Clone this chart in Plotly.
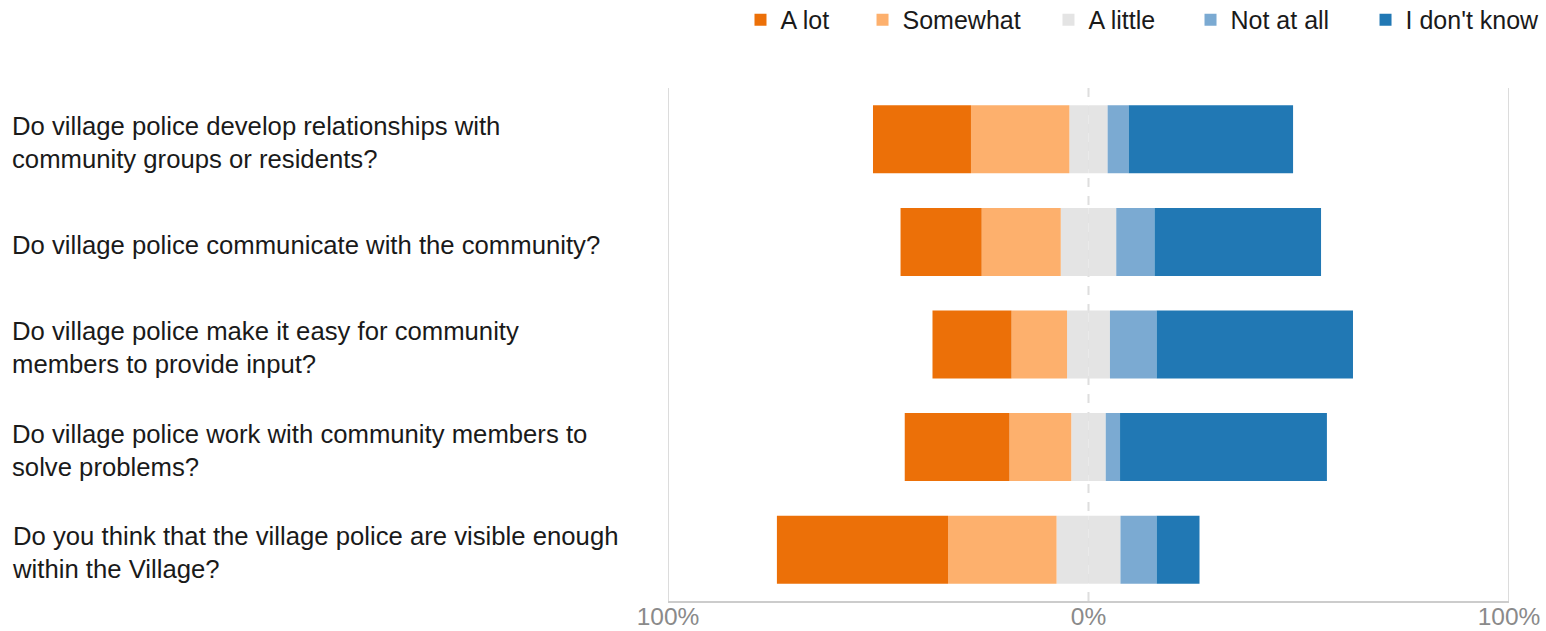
import plotly.graph_objects as go

questions = [
    "Do village police develop relationships with<br>community groups or residents?",
    "Do village police communicate with the community?",
    "Do village police make it easy for community<br>members to provide input?",
    "Do village police work with community members to<br>solve problems?",
    "Do you think that the village police are visible enough<br>within the Village?",
]
a_lot = [23.3, 19.3, 18.8, 24.9, 40.7]
somewhat = [23.4, 18.8, 13.2, 14.7, 25.8]
a_little = [9.1, 13.2, 10.2, 8.2, 15.2]
not_at_all = [5.0, 9.1, 11.1, 3.4, 8.6]
dont_know = [39.1, 39.6, 46.7, 49.2, 10.2]

tick_vals = [-100, 0, 100]
tick_text = ["100%", "0%", "100%"]

colors = {
    "A lot": "#ec7008",
    "Somewhat": "#fdb06d",
    "A little": "#e4e4e4",
    "Not at all": "#7baad2",
    "I don't know": "#2178b4",
}

FONT = "Liberation Sans, Arial, sans-serif"
W = 0.663

# left edge (paper fraction) of each legend entry
legend_x = {"A lot": 0.0862, "Somewhat": 0.2313, "A little": 0.4524,
            "Not at all": 0.6213, "I don't know": 0.8294}
legend_ids = {"A lot": "legend", "Somewhat": "legend2", "A little": "legend3",
              "Not at all": "legend4", "I don't know": "legend5"}

fig = go.Figure()
# negative side (stacks leftwards from 0 in trace order)
fig.add_trace(go.Bar(y=questions, x=[-v / 2 for v in a_little], orientation="h",
                     name="A little", legendgroup="A little", showlegend=False,
                     legend=legend_ids["A little"],
                     marker=dict(color=colors["A little"], line=dict(width=0)), width=W))
fig.add_trace(go.Bar(y=questions, x=[-v for v in somewhat], orientation="h",
                     name="Somewhat", legend=legend_ids["Somewhat"],
                     marker=dict(color=colors["Somewhat"], line=dict(width=0)), width=W))
fig.add_trace(go.Bar(y=questions, x=[-v for v in a_lot], orientation="h",
                     name="A lot", legend=legend_ids["A lot"],
                     marker=dict(color=colors["A lot"], line=dict(width=0)), width=W))
# positive side
fig.add_trace(go.Bar(y=questions, x=[v / 2 for v in a_little], orientation="h",
                     name="A little", legendgroup="A little",
                     legend=legend_ids["A little"],
                     marker=dict(color=colors["A little"], line=dict(width=0)), width=W))
fig.add_trace(go.Bar(y=questions, x=not_at_all, orientation="h",
                     name="Not at all", legend=legend_ids["Not at all"],
                     marker=dict(color=colors["Not at all"], line=dict(width=0)), width=W))
fig.add_trace(go.Bar(y=questions, x=dont_know, orientation="h",
                     name="I don't know", legend=legend_ids["I don't know"],
                     marker=dict(color=colors["I don't know"], line=dict(width=0)), width=W))

# reference lines
fig.add_vline(x=0, line=dict(color="#dedede", width=2, dash="dash"), layer="below")
fig.add_vline(x=-100, line=dict(color="#dcdcdc", width=2), layer="below")
fig.add_vline(x=100, line=dict(color="#dcdcdc", width=2), layer="below")

for q in questions:
    fig.add_annotation(x=-0.7825, xref="paper", y=q, yref="y", text=q, showarrow=False,
                       xanchor="left", yanchor="middle", align="left", yshift=-3,
                       font=dict(family=FONT, size=25.7, color="#1a1a1a"))

legend_common = dict(orientation="h", xanchor="left", y=1.1326, yanchor="middle",
                     font=dict(family=FONT, size=25, color="#1a1a1a"),
                     bgcolor="rgba(0,0,0,0)", borderwidth=0)
layout_legends = {}
for name, lid in legend_ids.items():
    layout_legends[lid] = dict(legend_common, x=legend_x[name])

fig.update_layout(
    width=1546, height=631,
    margin=dict(l=668, r=37, t=88, b=30, autoexpand=False),
    barmode="relative",
    plot_bgcolor="white", paper_bgcolor="white",
    font=dict(family=FONT, size=25, color="#1a1a1a"),
    showlegend=True,
    hovermode=False,
    xaxis=dict(range=[-100, 100], tickvals=tick_vals, ticktext=tick_text,
               showgrid=False, zeroline=False, showline=True, linecolor="#cccccc",
               linewidth=2, ticks="", fixedrange=True, ticklabelstandoff=-7,
               tickfont=dict(family=FONT, size=24.5, color="#8a8a8a")),
    yaxis=dict(autorange="reversed", showticklabels=False, showgrid=False,
               zeroline=False, showline=False, ticks="", fixedrange=True),
    **layout_legends,
)

# remove the default page margin so the figure fills the window exactly
fig.write_html("out.html", config={"displayModeBar": False, "staticPlot": False},
               post_script="document.body.style.margin='0';")
